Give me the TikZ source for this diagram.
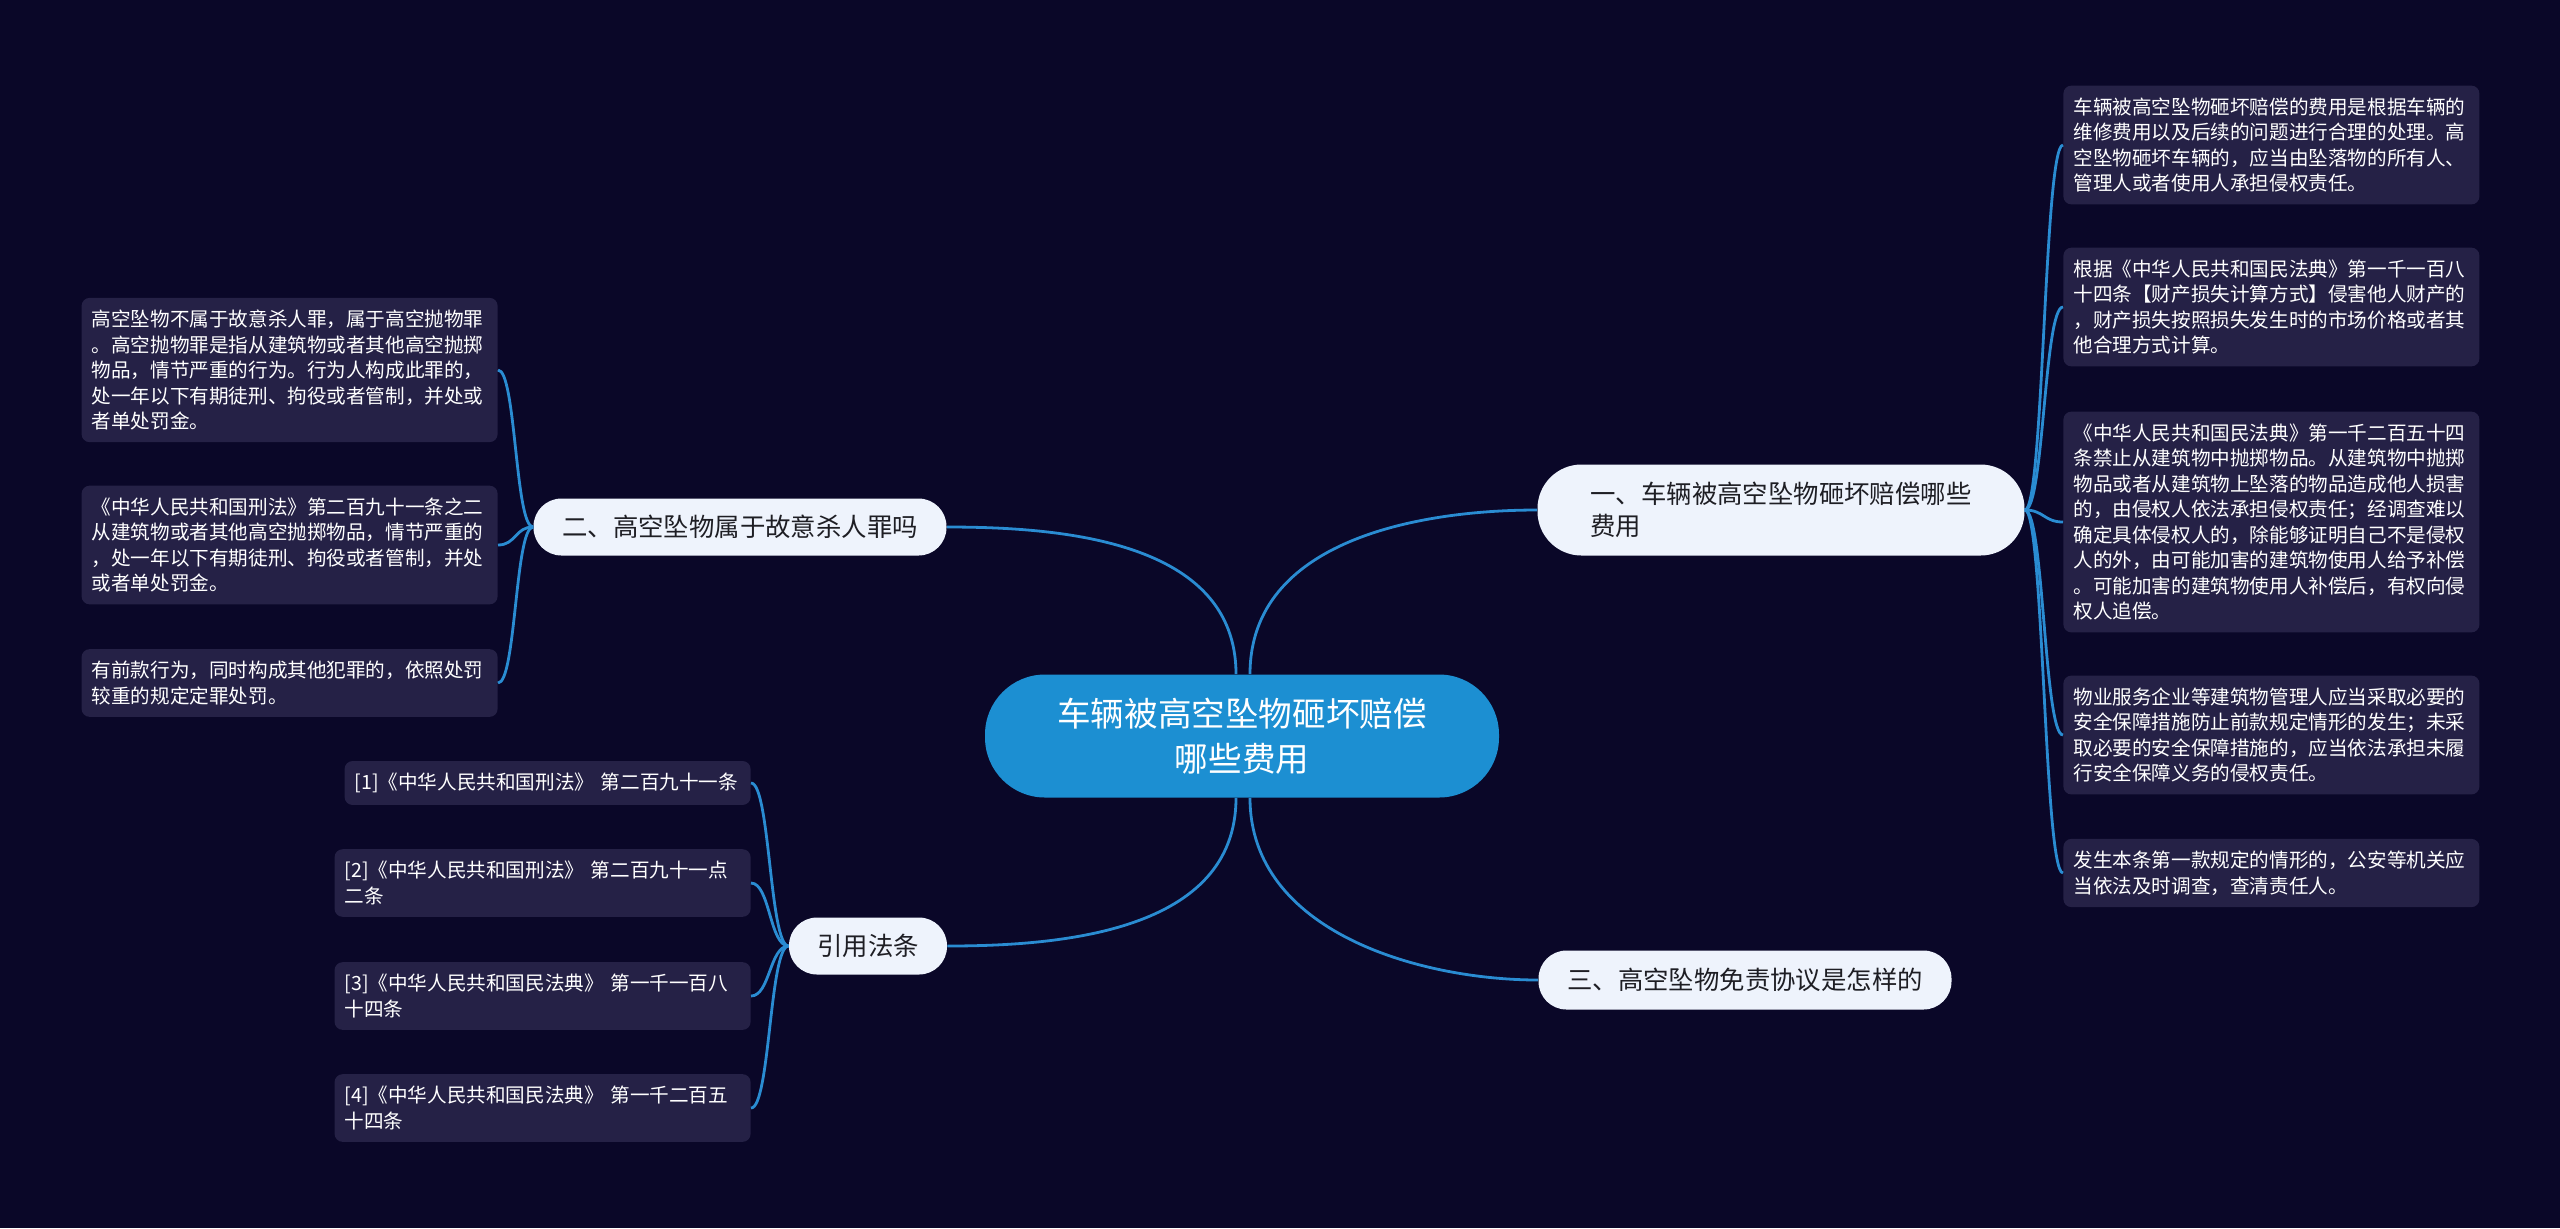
\documentclass[tikz,border=0pt]{standalone}
\usepackage{fontspec}
\setmainfont{Noto Sans CJK SC}
\usetikzlibrary{positioning}

\definecolor{fondo}{RGB}{10,7,40}
\definecolor{rootblue}{RGB}{28,143,210}
\definecolor{topicbg}{RGB}{238,243,252}
\definecolor{topictext}{RGB}{30,30,36}
\definecolor{leafbg}{RGB}{37,33,70}
\definecolor{linkblue}{RGB}{42,140,210}

\begin{document}
\begin{tikzpicture}[
    x=0.5pt, y=-0.5pt,
    every node/.style={font=\fontsize{9.8}{12.75}\selectfont},
    root_node/.style={fill=rootblue, text=white, rounded corners=30pt, minimum width=257pt, minimum height=61.5pt, align=center, font=\fontsize{16.8}{22.5}\selectfont},
    topic_node/.style={fill=topicbg, text=topictext, rounded corners=14pt, minimum height=28.5pt, align=left, font=\fontsize{12.7}{16}\selectfont},
    leaf_node/.style={fill=leafbg, text=white, rounded corners=4pt, align=left, text width=198pt, inner xsep=5pt, inner ysep=6pt},
    link/.style={draw=linkblue, line width=1.4pt}
]

\useasboundingbox[fill=fondo] (0,0) rectangle (2560,1228);

% Nodos principales
\node[root_node] (ctr) at (1242,736) {车辆被高空坠物砸坏赔偿\\哪些费用};
\node[topic_node, rounded corners=22pt, minimum width=243.5pt, minimum height=45.5pt] (n1) at (1781,510) {一、车辆被高空坠物砸坏赔偿哪些\\费用};
\node[topic_node, minimum width=206.5pt] (n2) at (740,527) {二、高空坠物属于故意杀人罪吗};
\node[topic_node, minimum width=79pt] (n3) at (868,946) {引用法条};
\node[topic_node, minimum width=206.5pt, minimum height=29.5pt] (n4) at (1745,980) {三、高空坠物免责协议是怎样的};

% Hojas (derecha)
\node[leaf_node, anchor=west] (r1) at (2063,145) {车辆被高空坠物砸坏赔偿的费用是根据车辆的\\维修费用以及后续的问题进行合理的处理。高\\空坠物砸坏车辆的，应当由坠落物的所有人、\\管理人或者使用人承担侵权责任。};
\node[leaf_node, anchor=west] (r2) at (2063,307) {根据《中华人民共和国民法典》第一千一百八\\十四条【财产损失计算方式】侵害他人财产的\\，财产损失按照损失发生时的市场价格或者其\\他合理方式计算。};
\node[leaf_node, anchor=west] (r3) at (2063,522) {《中华人民共和国民法典》第一千二百五十四\\条禁止从建筑物中抛掷物品。从建筑物中抛掷\\物品或者从建筑物上坠落的物品造成他人损害\\的，由侵权人依法承担侵权责任；经调查难以\\确定具体侵权人的，除能够证明自己不是侵权\\人的外，由可能加害的建筑物使用人给予补偿\\。可能加害的建筑物使用人补偿后，有权向侵\\权人追偿。};
\node[leaf_node, anchor=west] (r4) at (2063,735) {物业服务企业等建筑物管理人应当采取必要的\\安全保障措施防止前款规定情形的发生；未采\\取必要的安全保障措施的，应当依法承担未履\\行安全保障义务的侵权责任。};
\node[leaf_node, anchor=west] (r5) at (2063,873) {发生本条第一款规定的情形的，公安等机关应\\当依法及时调查，查清责任人。};

% Hojas (izquierda)
\node[leaf_node, anchor=east] (l1) at (498,370) {高空坠物不属于故意杀人罪，属于高空抛物罪\\。高空抛物罪是指从建筑物或者其他高空抛掷\\物品，情节严重的行为。行为人构成此罪的，\\处一年以下有期徒刑、拘役或者管制，并处或\\者单处罚金。};
\node[leaf_node, anchor=east] (l2) at (498,545) {《中华人民共和国刑法》第二百九十一条之二\\从建筑物或者其他高空抛掷物品，情节严重的\\，处一年以下有期徒刑、拘役或者管制，并处\\或者单处罚金。};
\node[leaf_node, anchor=east] (l3) at (498,683) {有前款行为，同时构成其他犯罪的，依照处罚\\较重的规定定罪处罚。};

% Referencias
\node[leaf_node, anchor=east, text width=193pt] (c1) at (751,783) {[1]《中华人民共和国刑法》 第二百九十一条};
\node[leaf_node, anchor=east] (c2) at (751,883) {[2]《中华人民共和国刑法》 第二百九十一点\\二条};
\node[leaf_node, anchor=east] (c3) at (751,996) {[3]《中华人民共和国民法典》 第一千一百八\\十四条};
\node[leaf_node, anchor=east] (c4) at (751,1108) {[4]《中华人民共和国民法典》 第一千二百五\\十四条};

% Conexiones
\draw[link] ([xshift=4pt]ctr.north) .. controls +(0,-134) and +(-118,0) .. (n1.west);
\draw[link] ([xshift=-3pt]ctr.north) .. controls +(0,-134) and +(113,0) .. (n2.east);
\draw[link] ([xshift=-3pt]ctr.south) .. controls +(0,134) and +(113,0) .. (n3.east);
\draw[link] ([xshift=4pt]ctr.south) .. controls +(0,134) and +(-118,0) .. (n4.west);

\foreach \r in {r1,r2,r3,r4,r5}
    \draw[link] (n1.east) .. controls +(19,0) and +(-19,0) .. (\r.west);
\foreach \l in {l1,l2,l3}
    \draw[link] (n2.west) .. controls +(-18,0) and +(18,0) .. (\l.east);
\foreach \c in {c1,c2,c3,c4}
    \draw[link] (n3.west) .. controls +(-19,0) and +(19,0) .. (\c.east);

\end{tikzpicture}
\end{document}
